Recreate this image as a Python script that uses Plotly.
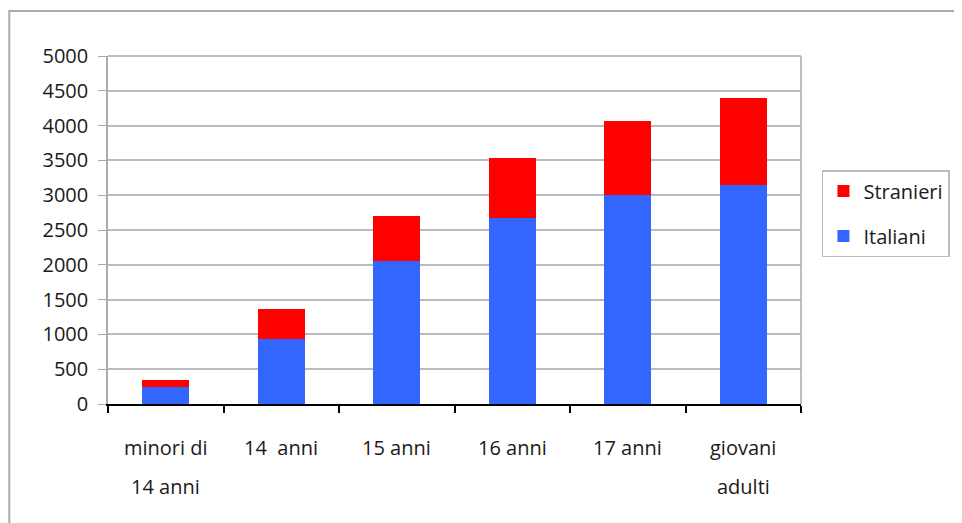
import plotly.graph_objects as go

categories = ["minori di 14 anni", "14  anni", "15 anni", "16 anni", "17 anni", "giovani adulti"]
label_line1 = ["minori di", "14  anni", "15 anni", "16 anni", "17 anni", "giovani"]
label_line2 = ["14 anni", "", "", "", "", "adulti"]
italiani = [240, 930, 2050, 2670, 3010, 3150]
stranieri = [110, 430, 650, 860, 1060, 1240]
y_ticks = [0, 500, 1000, 1500, 2000, 2500, 3000, 3500, 4000, 4500, 5000]

OFF = 8  # page body margin
W, H = 962 - OFF, 523 - OFF
L, T = 108 - OFF, 56 - OFF
R = W - (803 - OFF)
B = H - (404 - OFF)
pw, ph = W - L - R, H - T - B


def px_x(x):
    return (x - OFF - L) / pw


def px_y(y):
    return (H - B - (y - OFF)) / ph


FONT = "Open Sans"
TXT = "#1a1a1a"
fig = go.Figure()
fig.add_trace(go.Bar(x=categories, y=italiani, name="Italiani", marker=dict(color="#3366FF", line=dict(width=0)),
                     legendgroup="i", legendrank=2))
fig.add_trace(go.Bar(x=categories, y=stranieri, name="Stranieri", marker=dict(color="#FF0000", line=dict(width=0)),
                     legendgroup="s", legendrank=1))

annotations = []
for c, a, b in zip(categories, label_line1, label_line2):
    annotations.append(dict(x=c, xref="x", y=px_y(447), yref="paper", text=a, showarrow=False,
                            font=dict(family=FONT, size=20, color=TXT), yanchor="middle"))
    if b:
        annotations.append(dict(x=c, xref="x", y=px_y(487), yref="paper", text=b, showarrow=False,
                                font=dict(family=FONT, size=20, color=TXT), yanchor="middle"))

fig.update_layout(
    width=W, height=H,
    margin=dict(l=L, r=R, t=T, b=B),
    barmode="stack", bargap=0.59,
    plot_bgcolor="white", paper_bgcolor="white",
    font=dict(family=FONT, size=20, color=TXT),
    showlegend=True,
    legend=dict(x=px_x(824), y=px_y(170), xanchor="left", yanchor="top",
                traceorder="grouped", bordercolor="#BBBBBB", borderwidth=1.5,
                bgcolor="white", font=dict(family=FONT, size=20, color=TXT), tracegroupgap=16,
                itemwidth=30),
    xaxis=dict(type="category", showticklabels=False, ticks="outside", tickson="boundaries",
               ticklen=7, tickcolor="black", tickwidth=1.5, showline=True, linecolor="black",
               linewidth=1.5, showgrid=False, mirror=False),
    yaxis=dict(range=[0, 5000], tickvals=y_ticks, ticks="outside", ticklen=8, tickcolor="#AAAAAA",
               showline=True, linecolor="#AAAAAA", linewidth=1.5, gridcolor="#BBBBBB", gridwidth=1.5,
               zeroline=False, ticklabelstandoff=6,
               tickfont=dict(family=FONT, size=20, color=TXT)),
    annotations=annotations,
    shapes=[
        dict(type="rect", xref="paper", yref="paper", x0=px_x(9), x1=1.5, y0=-1, y1=px_y(11),
             line=dict(color="#AAAAAA", width=2), fillcolor="rgba(0,0,0,0)", layer="below"),
        dict(type="line", xref="paper", yref="paper", x0=1, x1=1, y0=0, y1=1,
             line=dict(color="#AAAAAA", width=1.5)),
        dict(type="line", xref="paper", yref="paper", x0=0, x1=1, y0=1, y1=1,
             line=dict(color="#AAAAAA", width=1.5)),
    ],
)

fig.write_html("out.html")
